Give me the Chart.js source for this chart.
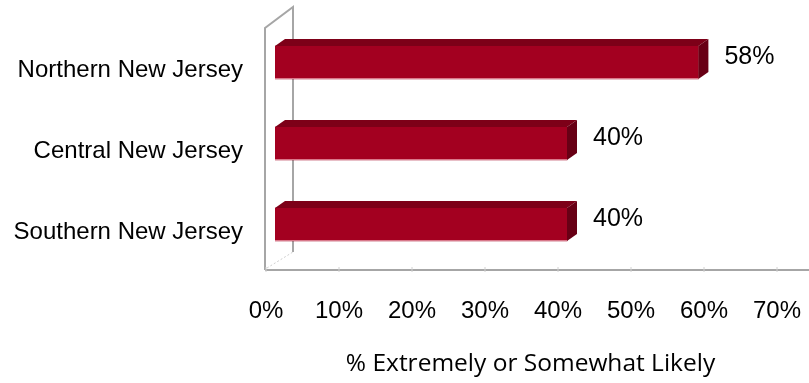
<!DOCTYPE html>
<html>
<head>
<meta charset="utf-8">
<script src="https://cdn.jsdelivr.net/npm/chart.js@4"></script>
<style>
  html, body { margin: 0; padding: 0; background: #fff; }
  #wrap { width: 809px; height: 383px; }
</style>
</head>
<body>
<div id="wrap"><canvas id="regionChart" width="809" height="383"></canvas></div>
<script>
// categories and values
var regions = ['Northern New Jersey', 'Central New Jersey', 'Southern New Jersey'];
var likelyPct = [58, 40, 40];
var axisTicks = [0, 10, 20, 30, 40, 50, 60, 70];
var axisTitle = '% Extremely or Somewhat Likely';

// 3D look
var DEPTH_X = 10, DEPTH_Y = 7;
var FRONT = '#a30020', TOP = '#7d0018', SIDE = '#680015';
var FRAME = '#a6a6a6';

var box3d = {
    id: 'box3d',
    beforeDatasetsDraw: function (chart) {
        var c = chart.ctx, a = chart.chartArea, xs = chart.scales.x;
        var fx = a.left - 10, bx = a.left + 18;
        var floorY = a.bottom + 5, topY = a.top + 6;
        c.save();
        c.strokeStyle = FRAME;
        c.lineWidth = 2;
        // front left edge + top slant + back wall edge
        c.beginPath();
        c.moveTo(fx, floorY);
        c.lineTo(fx, topY);
        c.lineTo(bx, topY - 21);
        c.lineTo(bx, floorY - 18);
        c.stroke();
        // floor front edge
        c.beginPath();
        c.moveTo(fx, floorY);
        c.lineTo(chart.width, floorY);
        c.stroke();
        // floor left slant
        c.lineWidth = 1;
        c.strokeStyle = '#cfcfcf';
        c.setLineDash([2, 2]);
        c.beginPath();
        c.moveTo(fx + 2, floorY - 2);
        c.lineTo(bx, floorY - 18);
        c.stroke();
        c.setLineDash([]);
        // small tick marks on the floor
        c.strokeStyle = '#d0d0d0';
        axisTicks.forEach(function (v) {
            var px = xs.getPixelForValue(v) - 9;
            c.beginPath();
            c.moveTo(px, floorY - 3);
            c.lineTo(px, floorY + 2);
            c.stroke();
        });
        c.restore();
    },
    afterDatasetsDraw: function (chart) {
        var c = chart.ctx;
        var meta = chart.getDatasetMeta(0);
        c.save();
        meta.data.forEach(function (bar, i) {
            var t = bar.y - bar.height / 2, b = bar.y + bar.height / 2;
            // top face
            c.fillStyle = TOP;
            c.beginPath();
            c.moveTo(bar.base, t);
            c.lineTo(bar.base + DEPTH_X, t - DEPTH_Y);
            c.lineTo(bar.x + DEPTH_X, t - DEPTH_Y);
            c.lineTo(bar.x, t);
            c.closePath();
            c.fill();
            // right side face
            c.fillStyle = SIDE;
            c.beginPath();
            c.moveTo(bar.x, t);
            c.lineTo(bar.x + DEPTH_X, t - DEPTH_Y);
            c.lineTo(bar.x + DEPTH_X, b - DEPTH_Y);
            c.lineTo(bar.x, b);
            c.closePath();
            c.fill();
            // faint light edge along the bottom of the front face
            c.strokeStyle = 'rgba(230,150,165,0.8)';
            c.lineWidth = 1;
            c.beginPath();
            c.moveTo(bar.base, b - 0.5);
            c.lineTo(bar.x, b - 0.5);
            c.stroke();
            // value label
            c.fillStyle = '#000';
            c.font = '25px "Liberation Sans", Arial, sans-serif';
            c.textAlign = 'left';
            c.textBaseline = 'middle';
            c.fillText(likelyPct[i] + '%', bar.x + 26, bar.y - 5);
        });
        c.restore();
    }
};

var ctx = document.getElementById('regionChart').getContext('2d');
var chart = new Chart(ctx, {
    type: 'bar',
    data: {
        labels: regions,
        datasets: [{
            data: likelyPct,
            backgroundColor: FRONT,
            borderWidth: 0,
            barThickness: 33
        }]
    },
    plugins: [box3d],
    options: {
        indexAxis: 'y',
        responsive: false,
        animation: false,
        layout: { padding: { top: 22, right: 23, left: 0, bottom: 0 } },
        plugins: { legend: { display: false }, tooltip: { enabled: false } },
        scales: {
            x: {
                min: 0,
                max: 70,
                afterBuildTicks: function (s) {
                    s.ticks = axisTicks.map(function (v) { return { value: v }; });
                },
                afterFit: function (s) {
                    s.height = 118;
                    s.paddingLeft = 0;
                    s.paddingRight = 0;
                },
                grid: { display: false, drawTicks: false },
                border: { display: false },
                ticks: {
                    color: '#000',
                    font: { family: '"Liberation Sans", Arial, sans-serif', size: 24 },
                    padding: 32,
                    labelOffset: -9,
                    maxRotation: 0,
                    callback: function (v) { return v + '%'; }
                },
                title: {
                    display: true,
                    text: axisTitle,
                    color: '#000',
                    font: { family: '"Open Sans", Lato, sans-serif', size: 24.5 },
                    padding: { top: 4, bottom: 4 }
                }
            },
            y: {
                afterFit: function (s) {
                    s.width = 275;
                    s.paddingTop = 0;
                    s.paddingBottom = 0;
                },
                grid: { display: false, drawTicks: false },
                border: { display: false },
                ticks: {
                    color: '#000',
                    font: { family: '"Liberation Sans", Arial, sans-serif', size: 24 },
                    padding: 32,
                    labelOffset: 8
                }
            }
        }
    }
});
</script>
</body>
</html>
